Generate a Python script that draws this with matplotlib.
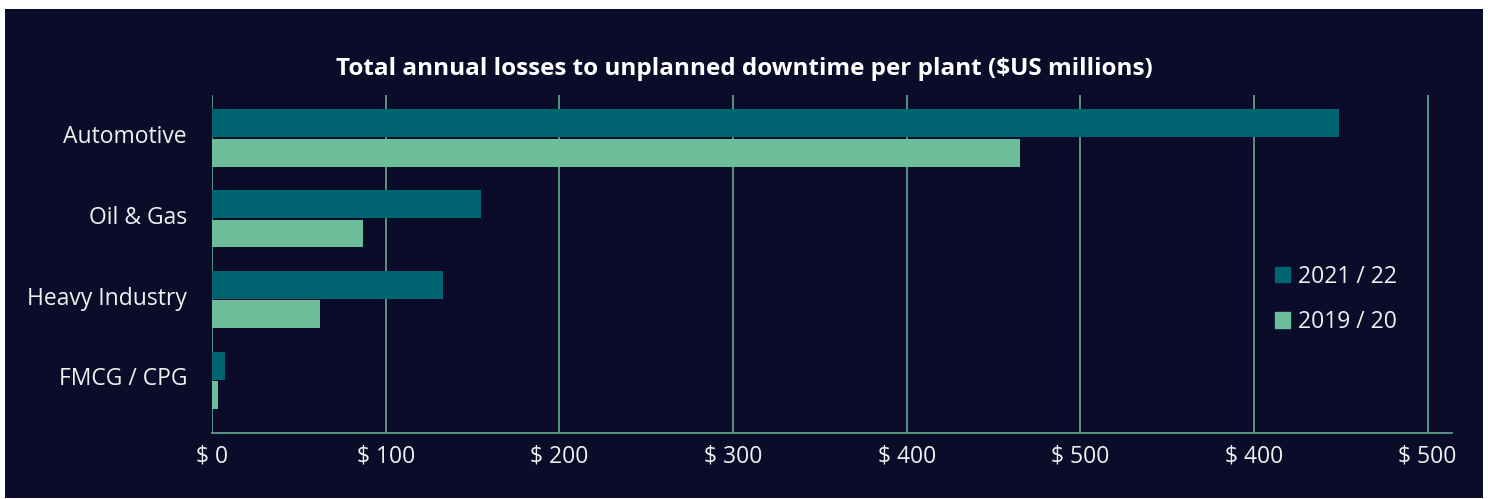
import numpy as np
import matplotlib
matplotlib.use("Agg")
import matplotlib.pyplot as plt
import matplotlib.transforms as mtransforms
from matplotlib.patches import Rectangle, Patch

# Data (US$ millions per plant)
categories = ["Automotive", "Oil & Gas", "Heavy Industry", "FMCG / CPG"]
losses_2122 = [649, 155, 133, 7.5]
losses_1920 = [465, 87, 62, 3.5]
tick_values = [0, 100, 200, 300, 400, 500, 600, 700]
tick_labels = ["$ 0", "$ 100", "$ 200", "$ 300", "$ 400", "$ 500", "$ 400", "$ 500"]
series_names = ["2021 / 22", "2019 / 20"]

bg = "#0b0c2a"
dark_teal = "#006570"
light_green = "#6dbd9a"
grid_col = "#5e9e89"
text_col = "#f0f0f0"

plt.rcParams["font.family"] = ["Open Sans", "DejaVu Sans"]

fig = plt.figure(figsize=(14.88, 4.99), dpi=100, facecolor="white")
fig.patches.append(Rectangle((5 / 1488, 1 / 499), 1478 / 1488, 489 / 499,
                             transform=fig.transFigure, facecolor=bg,
                             edgecolor="none", zorder=-10))

ax = fig.add_axes([212 / 1488, 66 / 499, 1240 / 1488, 338 / 499])
ax.set_facecolor("none")

y = np.arange(len(categories))
h = 0.345
ax.barh(y - h / 2 - 0.01, losses_2122, height=h, color=dark_teal, zorder=3, label=series_names[0])
ax.barh(y + h / 2 + 0.01, losses_1920, height=h, color=light_green, zorder=3, label=series_names[1])

ax.set_xlim(0, 714)
ax.set_ylim(3.65, -0.53)

for v in tick_values:
    ax.axvline(v, color=grid_col, lw=1.3, zorder=1)

ax.set_xticks(tick_values)
ax.set_xticklabels(tick_labels)
ax.set_yticks(y)
ax.set_yticklabels(categories)
ax.tick_params(axis="both", length=0, colors=text_col, labelsize=16.5)
ax.tick_params(axis="x", pad=8)
ax.tick_params(axis="y", pad=18)

# category labels sit a little above the centre of each bar pair
shift = mtransforms.ScaledTranslation(0, 4 / 100, fig.dpi_scale_trans)
for lab in ax.get_yticklabels():
    lab.set_transform(lab.get_transform() + shift)

for s in ["top", "right", "left"]:
    ax.spines[s].set_visible(False)
ax.spines["bottom"].set_color(grid_col)
ax.spines["bottom"].set_linewidth(1.3)

fig.text(0.5, 0.862, "Total annual losses to unplanned downtime per plant ($US millions)",
         ha="center", va="center", color="white", fontsize=17.5, fontweight="bold")

handles = [Patch(color=dark_teal), Patch(color=light_green)]
leg = fig.legend(handles, series_names, loc="upper left",
                 bbox_to_anchor=(1254 / 1488, 1 - 244 / 499), frameon=False,
                 fontsize=16.5, handlelength=0.68, handleheight=0.68,
                 handletextpad=0.35, labelspacing=0.94)
for t in leg.get_texts():
    t.set_color(text_col)

fig.savefig("out.png", dpi=100, facecolor="white")
